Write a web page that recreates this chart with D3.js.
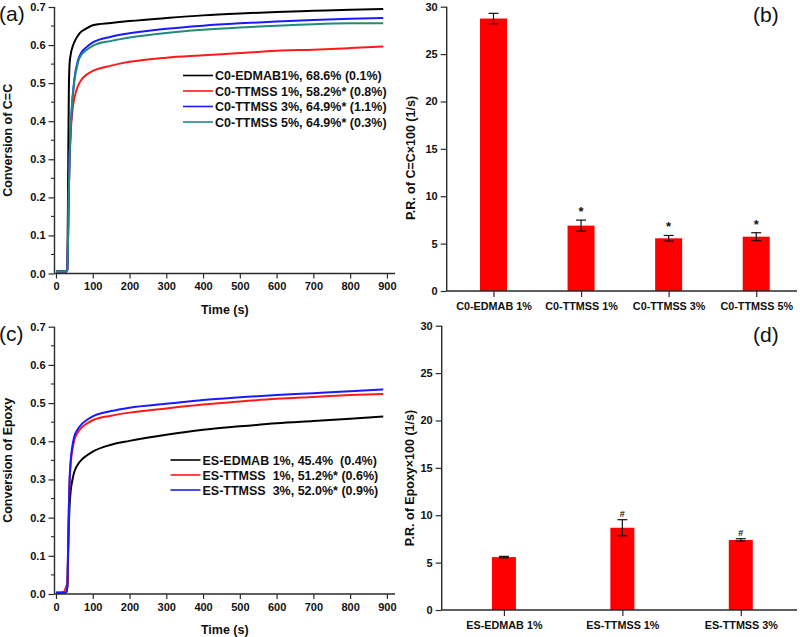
<!DOCTYPE html>
<html><head><meta charset="utf-8">
<script src="https://cdn.jsdelivr.net/npm/d3@7/dist/d3.min.js"></script>
<style>
body{margin:0;background:#fff}
text{font-family:"Liberation Sans",Arial,sans-serif;}
</style></head>
<body><svg id="fig" width="800" height="637"></svg>
<script>
// ---------- Data ----------
// Panel (a): conversion of C=C vs time
const timeA = [0, 28, 31, 33, 35, 37, 40, 45, 50, 60, 70, 80, 100, 150, 200, 300, 400, 500, 600, 700, 800, 890];
const a_EDMAB1  = [0.005,0.005,0.02,0.25,0.48,0.55,0.575,0.595,0.608,0.625,0.636,0.642,0.652,0.658,0.663,0.671,0.678,0.683,0.687,0.690,0.693,0.695];
const a_TTMSS1  = [0.005,0.005,0.01,0.10,0.22,0.30,0.37,0.43,0.46,0.493,0.51,0.52,0.532,0.546,0.556,0.567,0.573,0.579,0.585,0.588,0.592,0.596];
const a_TTMSS3  = [0.005,0.005,0.01,0.10,0.22,0.30,0.38,0.46,0.51,0.56,0.582,0.592,0.607,0.622,0.631,0.643,0.651,0.657,0.662,0.666,0.669,0.671];
const a_TTMSS5  = [0.005,0.005,0.01,0.10,0.22,0.30,0.38,0.46,0.505,0.555,0.576,0.585,0.598,0.611,0.620,0.632,0.640,0.646,0.651,0.655,0.657,0.657];
const legendA = ["C0-EDMAB1%, 68.6% (0.1%)", "C0-TTMSS 1%, 58.2%* (0.8%)", "C0-TTMSS 3%, 64.9%* (1.1%)", "C0-TTMSS 5%, 64.9%* (0.3%)"];
const colorsA = ["#000000", "#ff1a1a", "#1a1aff", "#1f8a80"];

// Panel (b): polymerization rate of C=C
const catsB = ["C0-EDMAB 1%", "C0-TTMSS 1%", "C0-TTMSS 3%", "C0-TTMSS 5%"];
const valsB = [28.75, 6.9, 5.56, 5.73];
const errB  = [0.55, 0.58, 0.3, 0.42];
const markB = ["", "*", "*", "*"];

// Panel (c): conversion of epoxy vs time
const timeC = [0, 20, 28, 31, 33, 35, 37, 40, 45, 50, 60, 70, 80, 100, 150, 200, 300, 400, 500, 600, 700, 800, 890];
const c_EDMAB1 = [0.003,0.003,0.005,0.02,0.10,0.18,0.23,0.27,0.30,0.32,0.34,0.352,0.36,0.373,0.391,0.401,0.417,0.430,0.439,0.447,0.453,0.459,0.465];
const c_TTMSS1 = [0.003,0.005,0.02,0.03,0.12,0.22,0.29,0.34,0.38,0.403,0.424,0.436,0.444,0.455,0.467,0.475,0.486,0.496,0.504,0.511,0.516,0.521,0.524];
const c_TTMSS3 = [0.003,0.003,0.005,0.02,0.12,0.23,0.30,0.35,0.39,0.413,0.433,0.445,0.453,0.465,0.479,0.488,0.498,0.508,0.515,0.521,0.526,0.531,0.536];
const legendC = ["ES-EDMAB 1%, 45.4%  (0.4%)", "ES-TTMSS  1%, 51.2%* (0.6%)", "ES-TTMSS  3%, 52.0%* (0.9%)"];
const colorsC = ["#000000", "#ff1a1a", "#1a1aff"];

// Panel (d): polymerization rate of epoxy
const catsD = ["ES-EDMAB 1%", "ES-TTMSS 1%", "ES-TTMSS 3%"];
const valsD = [5.58, 8.68, 7.39];
const errD  = [0.08, 0.85, 0.13];
const markD = ["", "#", "#"];

const xTicks = [0,100,200,300,400,500,600,700,800,900];
const convTicks = [0,0.1,0.2,0.3,0.4,0.5,0.6,0.7];
const rateTicks = [0,5,10,15,20,25,30];

// ---------- Drawing ----------
const svg = d3.select("#fig");
const AX = "#2a2a2a";
const FONT_TICK = "11px";

function styleAxis(g){
  g.selectAll("path.domain").remove();
  g.selectAll(".tick line").attr("stroke", AX).attr("stroke-width", 1.2);
  g.selectAll(".tick text").attr("fill", "#111").attr("font-weight", "bold").style("font-size", FONT_TICK).style("font-family", '"Liberation Sans",Arial,sans-serif');
}
function hLine(x1,x2,y){ svg.append("line").attr("x1",x1).attr("x2",x2).attr("y1",y).attr("y2",y).attr("stroke",AX).attr("stroke-width",1.4); }
function vLine(x,y1,y2){ svg.append("line").attr("x1",x).attr("x2",x).attr("y1",y1).attr("y2",y2).attr("stroke",AX).attr("stroke-width",1.4); }

function linePanel(opt){
  const x = d3.scaleLinear().domain([-4, 922]).range([opt.left, opt.right]);
  const y = d3.scaleLinear().domain([0, 0.7]).range([opt.bottom, opt.top]);
  const minor = d3.range(0.05, 0.7, 0.1);
  svg.append("g").selectAll("line").data(minor).join("line")
    .attr("x1", opt.left-3.5).attr("x2", opt.left).attr("y1", d=>y(d)).attr("y2", d=>y(d))
    .attr("stroke", AX).attr("stroke-width", 1.1);
  const gy = svg.append("g").attr("transform", `translate(${opt.left},0)`)
    .call(d3.axisLeft(y).tickValues(convTicks).tickFormat(d3.format(".1f")).tickSize(6).tickPadding(3));
  styleAxis(gy);
  const gx = svg.append("g").attr("transform", `translate(0,${opt.bottom})`)
    .call(d3.axisBottom(x).tickValues(xTicks).tickFormat(d3.format("d")).tickSize(5).tickPadding(4));
  styleAxis(gx);
  const line = d3.line().x((d,i)=>x(opt.time[i])).y(d=>y(d)).curve(d3.curveMonotoneX);
  opt.series.forEach((s,i)=>{
    svg.append("path").datum(s).attr("d", line).attr("fill","none")
      .attr("stroke", opt.colors[i]).attr("stroke-width", 2).attr("stroke-linejoin","round");
  });
  vLine(opt.left, opt.top, opt.bottom);
  hLine(opt.left, opt.right, opt.bottom);
  opt.legend.forEach((t,i)=>{
    const yy = opt.legY + i*opt.legDy;
    svg.append("line").attr("x1", opt.legX).attr("x2", opt.legX+30).attr("y1", yy).attr("y2", yy)
      .attr("stroke", opt.colors[i]).attr("stroke-width", 1.6);
    svg.append("text").attr("x", opt.legX+32).attr("y", yy).attr("dy","0.36em")
      .attr("font-weight","bold").style("font-size","12.5px").attr("fill","#111")
      .style("white-space","pre").attr("xml:space","preserve").text(t);
  });
  svg.append("text").attr("x", (opt.left+opt.right)/2).attr("y", opt.bottom+40).attr("text-anchor","middle")
    .attr("font-weight","bold").style("font-size","12.5px").attr("fill","#111").text("Time (s)");
  svg.append("text").attr("transform", `translate(${opt.titleX},${(opt.top+opt.bottom)/2}) rotate(-90)`)
    .attr("text-anchor","middle").attr("font-weight","bold").style("font-size","12.5px").attr("fill","#111").text(opt.ytitle);
  svg.append("text").attr("x", -1).attr("y", opt.top+14).style("font-size","21px").attr("fill","#111").text(opt.label);
}

function barPanel(opt){
  const x = d3.scalePoint().domain(opt.cats).range([opt.left+3, opt.right+3]).padding(0.5);
  const y = d3.scaleLinear().domain([0, 30]).range([opt.bottom, opt.top]);
  const gy = svg.append("g").attr("transform", `translate(${opt.left},0)`)
    .call(d3.axisLeft(y).tickValues(rateTicks).tickSize(6).tickPadding(3));
  styleAxis(gy);
  const gx = svg.append("g").attr("transform", `translate(0,${opt.bottom})`)
    .call(d3.axisBottom(x).tickSize(6).tickPadding(5));
  styleAxis(gx);
  gx.selectAll(".tick text").style("font-size","10.8px");
  const bw = opt.barW;
  svg.append("g").selectAll("rect").data(opt.vals).join("rect")
    .attr("x", (d,i)=>x(opt.cats[i])-bw/2).attr("width", bw)
    .attr("y", d=>y(d)).attr("height", d=>opt.bottom-y(d)).attr("fill","#ff0000");
  opt.vals.forEach((v,i)=>{
    const cx = x(opt.cats[i]), e = opt.err[i];
    const g = svg.append("g").attr("stroke","#111").attr("stroke-width",1.2);
    g.append("line").attr("x1",cx).attr("x2",cx).attr("y1",y(v+e)).attr("y2",y(v-e));
    g.append("line").attr("x1",cx-5).attr("x2",cx+5).attr("y1",y(v+e)).attr("y2",y(v+e));
    g.append("line").attr("x1",cx-5).attr("x2",cx+5).attr("y1",y(v-e)).attr("y2",y(v-e));
    if(opt.marks[i]){
      svg.append("text").attr("x",cx).attr("y",y(v+e)-opt.markOff).attr("text-anchor","middle")
        .attr("font-weight","bold").style("font-size",opt.markSize).attr("fill","#111").text(opt.marks[i]);
    }
  });
  vLine(opt.left, opt.top, opt.bottom);
  hLine(opt.left, opt.right, opt.bottom);
  svg.append("text").attr("transform", `translate(${opt.titleX},${opt.titleY}) rotate(-90)`)
    .attr("text-anchor","middle").attr("font-weight","bold").style("font-size","12.5px").attr("fill","#111").text(opt.ytitle);
  svg.append("text").attr("x", opt.labX).attr("y", opt.labY).style("font-size","21px").attr("fill","#111").text(opt.label);
}

linePanel({left:54.5, right:395, top:7, bottom:273.5, time:timeA,
  series:[a_EDMAB1,a_TTMSS1,a_TTMSS3,a_TTMSS5], colors:colorsA, legend:legendA,
  legX:183, legY:75.5, legDy:15.5, titleX:12, ytitle:"Conversion of C=C", label:"(a)"});
linePanel({left:54.5, right:395, top:326.7, bottom:594, time:timeC,
  series:[c_EDMAB1,c_TTMSS1,c_TTMSS3], colors:colorsC, legend:legendC,
  legX:170.5, legY:460, legDy:15, titleX:12, ytitle:"Conversion of Epoxy", label:"(c)"});
barPanel({left:446.7, right:797, top:6.7, bottom:291, cats:catsB, vals:valsB, err:errB, marks:markB,
  barW:27, markOff:4, markSize:"13px", titleX:415, titleY:158, ytitle:"P.R. of C=C×100 (1/s)", label:"(b)", labX:753, labY:22});
barPanel({left:441.7, right:797, top:325.7, bottom:610, cats:catsD, vals:valsD, err:errD, marks:markD,
  barW:24, markOff:3, markSize:"9px", titleX:414, titleY:478, ytitle:"P.R. of Epoxy×100 (1/s)", label:"(d)", labX:753, labY:342});
</script>
</body></html>
